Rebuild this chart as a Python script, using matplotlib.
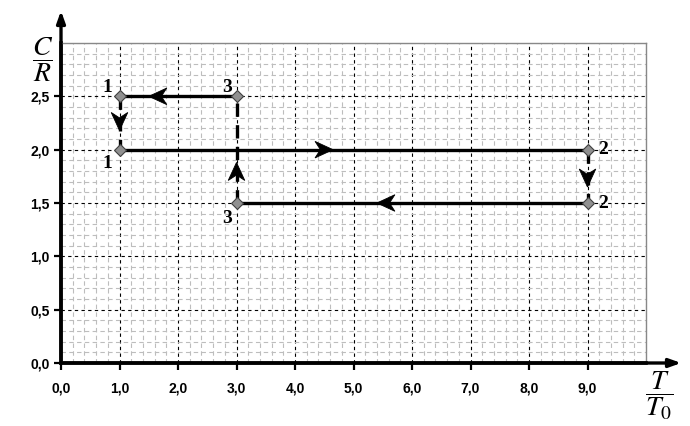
import matplotlib
matplotlib.use("Agg")
import matplotlib.pyplot as plt
from matplotlib.path import Path
from matplotlib.patches import PathPatch, FancyArrowPatch
from matplotlib.transforms import Affine2D, ScaledTranslation
from matplotlib.ticker import MultipleLocator, FixedLocator
import numpy as np

plt.rcParams['mathtext.fontset'] = 'stix'

# ---- data ----
x_ticks = [0, 1, 2, 3, 4, 5, 6, 7, 8, 9]
x_tick_labels = ["0,0", "1,0", "2,0", "3,0", "4,0", "5,0", "6,0", "7,0", "8,0", "9,0"]
y_ticks = [0, 0.5, 1.0, 1.5, 2.0, 2.5]
y_tick_labels = ["0,0", "0,5", "1,0", "1,5", "2,0", "2,5"]

pt_T = [1, 1, 9, 9, 3, 3]
pt_C = [2.5, 2.0, 2.0, 1.5, 1.5, 2.5]
pt_lab = ["1", "1", "2", "2", "3", "3"]
lab_off = [(-9, 6.5), (-9, -10), (11, 0), (11, 0), (-7, -11), (-7, 6.5)]

# horizontal solid segments (from, to)
h_segments = [((3, 2.5), (1, 2.5)), ((1, 2.0), (9, 2.0)), ((9, 1.5), (3, 1.5))]
# vertical dashed segments
v_segments = [((1, 2.5), (1, 2.0)), ((9, 2.0), (9, 1.5)), ((3, 1.5), (3, 2.5))]
# arrow tips: (T, C, direction)
arrows = [(1.5, 2.5, 'left'), (4.65, 2.0, 'right'), (5.4, 1.5, 'left'),
          (1.0, 2.18, 'down'), (9.0, 1.65, 'down'), (3.0, 1.88, 'up')]

fig = plt.figure(figsize=(6.9, 4.26), dpi=100)
ax = fig.add_axes([61/690, 1-363/426, (646-61)/690, (363-43)/426])
ax.set_xlim(0, 10)
ax.set_ylim(0, 3)

ax.xaxis.set_major_locator(FixedLocator(x_ticks))
ax.yaxis.set_major_locator(FixedLocator(y_ticks))
ax.xaxis.set_minor_locator(MultipleLocator(0.2))
ax.yaxis.set_minor_locator(MultipleLocator(0.1))
ax.set_xticklabels(x_tick_labels, fontweight='bold', fontsize=10, family='Liberation Sans')
ax.set_yticklabels(y_tick_labels, fontweight='bold', fontsize=10, family='Liberation Sans')
ax.tick_params(axis='both', which='major', direction='out', length=5, width=1.6, color='black')
ax.tick_params(axis='x', which='major', pad=8)
ax.tick_params(axis='y', which='major', pad=3)
ax.tick_params(axis='both', which='minor', length=0)

ax.grid(which='minor', color='#bdbdbd', linestyle=(0, (4, 3)), linewidth=0.8)
ax.grid(which='major', color='black', linestyle=(0, (3, 3)), linewidth=0.8)
ax.set_axisbelow(True)

for s in ['top', 'right']:
    ax.spines[s].set_color('#888888')
    ax.spines[s].set_linewidth(1.0)
for s in ['left', 'bottom']:
    ax.spines[s].set_linewidth(2.6)
    ax.spines[s].set_color('black')

# segments
for (a, b) in h_segments:
    ax.plot([a[0], b[0]], [a[1], b[1]], color='black', lw=2.4, solid_capstyle='butt', zorder=3)
for (a, b) in v_segments:
    ax.plot([a[0], b[0]], [a[1], b[1]], color='black', lw=2.4, linestyle=(0, (4, 2.5)),
            dash_capstyle='butt', zorder=3)

# arrow heads (size in pixels)
base = np.array([(0, 0), (-1, 0.46), (-0.7, 0), (-1, -0.46), (0, 0)])
codes = [Path.MOVETO, Path.LINETO, Path.LINETO, Path.LINETO, Path.CLOSEPOLY]
angles = {'right': 0, 'up': 90, 'left': 180, 'down': 270}
for (xa, ya, d) in arrows:
    th = np.deg2rad(angles[d])
    R = np.array([[np.cos(th), -np.sin(th)], [np.sin(th), np.cos(th)]])
    verts = base @ R.T
    tr = Affine2D().scale(18) + ScaledTranslation(xa, ya, ax.transData)
    ax.add_patch(PathPatch(Path(verts, codes), facecolor='black', edgecolor='black',
                           lw=0.6, transform=tr, zorder=4))

# points
ax.plot(pt_T, pt_C, linestyle='none', marker='D', markersize=6.5, markerfacecolor='#909090',
        markeredgecolor='#404040', markeredgewidth=0.8, zorder=5)
for xv, yv, lab, off in zip(pt_T, pt_C, pt_lab, lab_off):
    ax.annotate(lab, (xv, yv), xytext=off, textcoords='offset points', ha='center', va='center',
                fontsize=14, fontweight='bold', family='Liberation Serif', zorder=6)

# axis arrows
fig.patches.append(FancyArrowPatch(
    (61/690, 1-363/426), (61/690, 1-8/426), transform=fig.transFigure,
    arrowstyle='-|>,head_length=7,head_width=2.5', color='black', lw=2.4, mutation_scale=1))
fig.patches.append(FancyArrowPatch(
    (61/690, 1-363/426), (684/690, 1-363/426), transform=fig.transFigure,
    arrowstyle='-|>,head_length=7,head_width=2.5', color='black', lw=2.4, mutation_scale=1))

fig.text(43/690, 1-60/426, r'$\dfrac{C}{R}$', fontsize=20, ha='center', va='center')
fig.text(659/690, 1-396/426, r'$\dfrac{T}{T_0}$', fontsize=20, ha='center', va='center')

fig.savefig('out.png', dpi=100)
